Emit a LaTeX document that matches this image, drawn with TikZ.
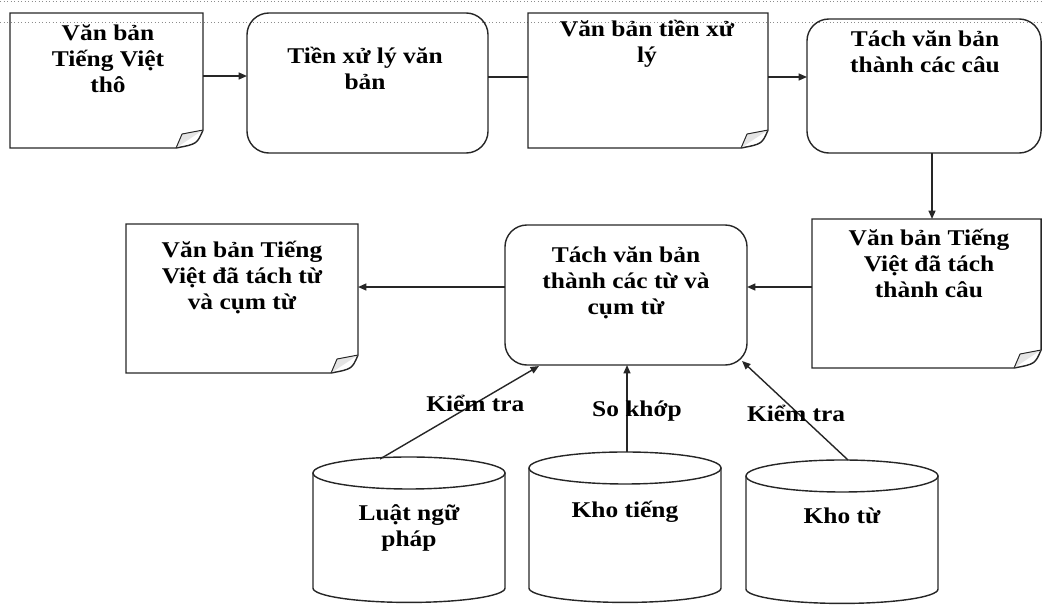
\documentclass[tikz,border=0pt]{standalone}
\usepackage{fontspec}
\setmainfont[FakeStretch=1.13]{Liberation Serif}
\usetikzlibrary{arrows.meta,calc}
\newcommand\tstrut{\rule{0pt}{1em}}
\begin{document}
\begin{tikzpicture}[x=0.025cm,y=-0.025cm,
  line/.style={draw=black!85, line width=1pt},
  arr/.style={line, -{Triangle[length=6pt,width=5pt]}},
  rbox/.style={line, rounded corners=0.55cm, inner sep=0, outer sep=0},
  dbox/.style={inner sep=0, outer sep=0},
  cbox/.style={inner sep=0, outer sep=0, minimum width=4.8cm},
  txt/.style={font=\fontsize{16}{18.5}\selectfont\bfseries, align=center, inner sep=0, anchor=north},
  lbl/.style={font=\fontsize{16}{18.5}\selectfont\bfseries, inner sep=0, anchor=base},
  flap/.style={line, fill=black!10, line width=0.7pt},
  dots/.style={draw=black!45, dotted, line width=0.5pt}]
\useasboundingbox (0,0) rectangle (1043,605);
% faint dotted rules of the scanned page
\coordinate (dl0) at (0,1);   \coordinate (dr0) at (1043,1);
\coordinate (dl1) at (0,22);  \coordinate (dr1) at (1043,22);
\draw[dots] (dl0) -- (dr0);
\draw[dots] (dl1) -- (dr1);

% documents (folded corner) and processes (rounded)
\node[dbox, minimum width=4.825cm, minimum height=3.375cm] (b1) at (106.5,80.5) {};
\node[rbox, minimum width=6.025cm, minimum height=3.5cm]   (b2) at (367.5,83) {};
\node[dbox, minimum width=6.0cm,   minimum height=3.375cm] (b3) at (648,80.5) {};
\node[rbox, minimum width=5.85cm,  minimum height=3.35cm]  (b4) at (924,86) {};
\node[dbox, minimum width=5.725cm, minimum height=3.725cm] (b5) at (926.5,293.5) {};
\node[rbox, minimum width=6.05cm,  minimum height=3.5cm]   (b6) at (626,295) {};
\node[dbox, minimum width=5.8cm,   minimum height=3.725cm] (b7) at (242,298.5) {};

\foreach \n in {b1,b3,b5,b7}{
  \draw[line] (\n.south west) -- (\n.north west) -- (\n.north east)
    -- ($(\n.south east)+(0,-18)$) .. controls ($(\n.south east)+(-6,-4)$) .. ($(\n.south east)+(-27,0)$) -- cycle;
  \draw[flap] ($(\n.south east)+(-27,0)$) -- ($(\n.south east)+(-21,-14)$) -- ($(\n.south east)+(0,-18)$);
}

% texts
\node[txt] (t1) at (108,17.4)  {\tstrut Văn bản\\Tiếng Việt\\thô};
\node[txt] (t2) at (365,40.4)  {\tstrut Tiền xử lý văn\\bản};
\node[txt] (t3) at (647,13.4)  {\tstrut Văn bản tiền xử\\lý};
\node[txt] (t4) at (925,23.4)  {\tstrut Tách văn bản\\thành các câu};
\node[txt] (t5) at (929,222.4) {\tstrut Văn bản Tiếng\\Việt đã tách\\thành câu};
\node[txt] (t6) at (626,239.4) {\tstrut Tách văn bản\\thành các từ và\\cụm từ};
\node[txt] (t7) at (242,234.4) {\tstrut Văn bản Tiếng\\Việt đã tách từ\\và cụm từ};

% cylinders
\node[cbox, minimum height=2.875cm] (c1) at (409,530.5) {};
\node[cbox, minimum height=3.0cm]   (c2) at (625,528) {};
\node[cbox, minimum height=2.825cm] (c3) at (842,532.5) {};
\foreach \n in {c1,c2,c3}{
  \draw[line] (\n.north west) -- (\n.south west)
    arc[start angle=180, end angle=360, x radius=2.4cm, y radius=0.36cm] -- (\n.north east);
  \draw[line] (\n.north) ellipse[x radius=2.4cm, y radius=0.4cm];
}
\node[txt] (ct1) at (409,497.4) {\tstrut Luật ngữ\\pháp};
\node[txt] (ct2) at (625,494.4) {\tstrut Kho tiếng};
\node[txt] (ct3) at (842,500.4) {\tstrut Kho từ};

% connectors
\coordinate (r1) at (0,76);
\coordinate (r2) at (0,77);
\coordinate (r3) at (0,287);
\coordinate (v1) at (932,0);
\draw[arr] (b1.east |- r1) -- (b2.west |- r1);
\draw[line] (b2.east |- r2) -- (b3.west |- r2);
\draw[arr] (b3.east |- r2) -- (b4.west |- r2);
\draw[arr] (b4.south -| v1) -- (b5.north -| v1);
\draw[arr] (b5.west |- r3) -- (b6.east |- r3);
\draw[arr] (b6.west |- r3) -- (b7.east |- r3);

\draw[arr] ($(c1.north)+(-29,-14)$) -- node[lbl, pos=0.6, yshift=-0.2cm] {Kiểm tra} ($(b6.south west)+(34,1)$);
\draw[arr] ($(c2.north)+(2,-16)$) -- node[lbl, pos=0.41, xshift=0.25cm] {So khớp} ($(b6.south)+(1,0)$);
\draw[arr] ($(c3.north)+(6,-16)$) -- node[lbl, pos=0.49, yshift=-0.24cm] {Kiểm tra} ($(b6.south east)+(-5,-4)$);
\end{tikzpicture}
\end{document}
